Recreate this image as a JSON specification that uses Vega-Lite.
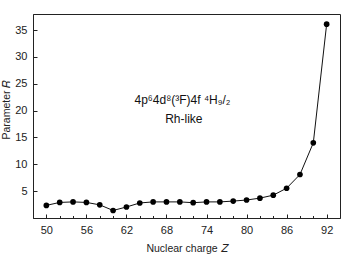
{
  "$schema": "https://vega.github.io/schema/vega-lite/v6.json",
  "width": 307,
  "height": 204,
  "autosize": "none",
  "padding": {"left": 33, "top": 14, "right": 14, "bottom": 36},
  "config": {
    "font": "Liberation Sans",
    "view": {"stroke": "#222", "strokeWidth": 1},
    "axis": {"grid": false, "domainColor": "#222", "tickColor": "#222", "labelColor": "#222", "titleColor": "#222", "labelFont": "Liberation Sans", "titleFont": "Liberation Sans", "labelFontSize": 11, "titleFontSize": 10.5, "titleFontWeight": "normal", "labelOverlap": false}
  },
  "datasets": {
    "pts": [
      {"Z": 50, "R": 2.35}, {"Z": 52, "R": 2.9}, {"Z": 54, "R": 3.0}, {"Z": 56, "R": 2.9},
      {"Z": 58, "R": 2.45}, {"Z": 60, "R": 1.4}, {"Z": 62, "R": 2.05}, {"Z": 64, "R": 2.8},
      {"Z": 66, "R": 3.0}, {"Z": 68, "R": 3.0}, {"Z": 70, "R": 3.0}, {"Z": 72, "R": 2.85},
      {"Z": 74, "R": 3.0}, {"Z": 76, "R": 3.0}, {"Z": 78, "R": 3.15}, {"Z": 80, "R": 3.35},
      {"Z": 82, "R": 3.7}, {"Z": 84, "R": 4.25}, {"Z": 86, "R": 5.55}, {"Z": 88, "R": 8.1},
      {"Z": 90, "R": 14.0}, {"Z": 92, "R": 36.1}
    ],
    "notes": [
      {"Z": 70.4, "R": 21.9, "label": "4p⁶4d⁸(³F)4f  ⁴H₉/₂"},
      {"Z": 70.6, "R": 18.4, "label": "Rh-like"}
    ]
  },
  "layer": [
    {
      "data": {"name": "pts"},
      "mark": {"type": "line", "color": "#111", "strokeWidth": 1},
      "encoding": {
        "x": {"field": "Z", "type": "quantitative", "scale": {"domain": [48, 94], "nice": false, "zero": false},
          "axis": {"orient": "bottom", "values": [50, 56, 62, 68, 74, 80, 86, 92], "tickSize": -4, "labelPadding": 10, "title": "Nuclear charge  𝑍", "titlePadding": 8}},
        "y": {"field": "R", "type": "quantitative", "scale": {"domain": [0, 38], "nice": false},
          "axis": {"values": [5, 10, 15, 20, 25, 30, 35], "tickSize": -4, "labelPadding": 10, "labelOverlap": false, "title": "Parameter  𝑅", "titleX": -22, "titleY": 95}}
      }
    },
    {
      "data": {"name": "pts"},
      "mark": {"type": "point", "filled": true, "color": "#000", "opacity": 1, "size": 32},
      "encoding": {
        "x": {"field": "Z", "type": "quantitative", "axis": {"orient": "bottom", "values": [50,52,54,56,58,60,62,64,66,68,70,72,74,76,78,80,82,84,86,88,90,92], "tickSize": -2.5, "labels": false, "domain": false, "title": null}},
        "y": {"field": "R", "type": "quantitative",
          "axis": {"values": [5, 10, 15, 20, 25, 30, 35], "tickSize": -4, "labelPadding": 10, "labelOverlap": false, "title": "Parameter  𝑅", "titleX": -22, "titleY": 95}}
      }
    },
    {
      "data": {"name": "notes"},
      "mark": {"type": "text", "fontSize": 12, "color": "#111", "font": "Liberation Sans"},
      "encoding": {
        "x": {"field": "Z", "type": "quantitative", "axis": null},
        "y": {"field": "R", "type": "quantitative",
          "axis": {"values": [5, 10, 15, 20, 25, 30, 35], "tickSize": -4, "labelPadding": 10, "labelOverlap": false, "title": "Parameter  𝑅", "titleX": -22, "titleY": 95}},
        "text": {"field": "label"}
      }
    }
  ],
  "resolve": {"axis": {"x": "independent"}}
}
